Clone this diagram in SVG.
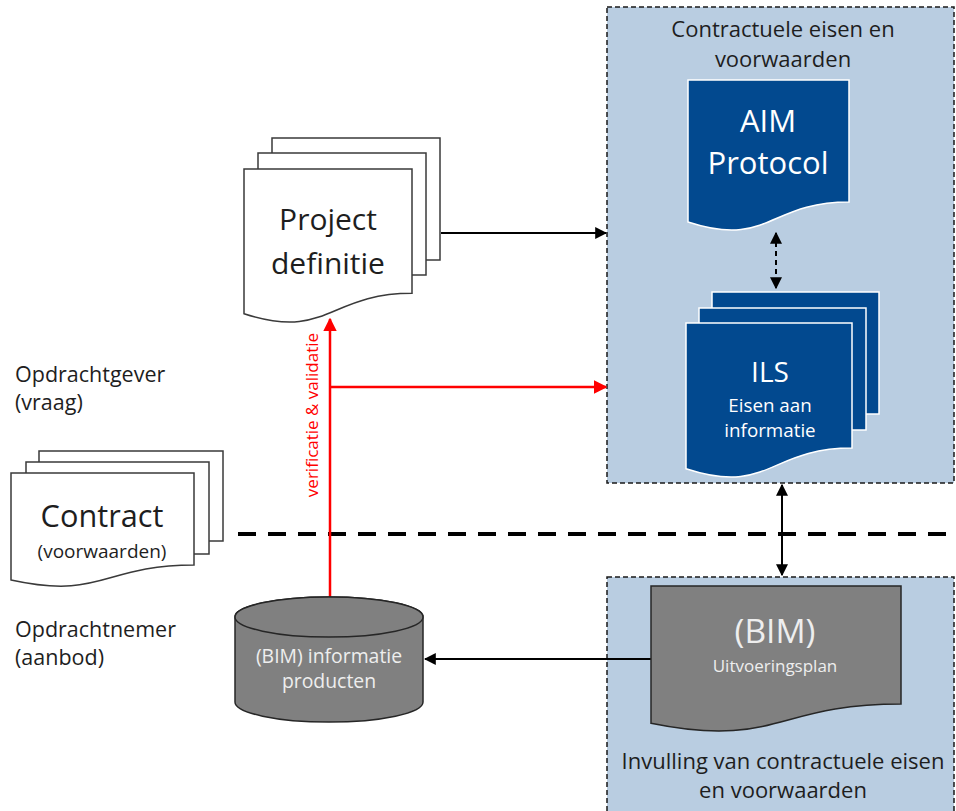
<svg xmlns="http://www.w3.org/2000/svg" width="956" height="811" viewBox="0 0 956 811">
<defs>
<style>
text{font-family:"Open Sans","Liberation Sans",Arial,sans-serif}
.dark{fill:#1e1e1e}
.white{fill:#ffffff}
.light{fill:#eeeeee}
.page{fill:#ffffff;stroke:#3a3a3a;stroke-width:1.5}
.blue{fill:#02498f;stroke:#ffffff;stroke-width:1.5}
.grey{fill:#808080;stroke:#262626;stroke-width:1.5}
.zone{fill:#b9cde1;stroke:#1a1a1a;stroke-width:1.5;stroke-dasharray:5,3}
.conn{fill:none;stroke:#000;stroke-width:2}
.red{fill:none;stroke:#ff0000;stroke-width:2.5}
</style>
<marker id="ah" viewBox="0 0 10 10" refX="9" refY="5" markerWidth="6" markerHeight="6" markerUnits="strokeWidth" orient="auto-start-reverse">
<path d="M0,0 L10,5 L0,10 Z" fill="#000"/>
</marker>
<marker id="ahr" viewBox="0 0 10 10" refX="9" refY="5" markerWidth="5.5" markerHeight="5.5" markerUnits="strokeWidth" orient="auto-start-reverse">
<path d="M0,0 L10,5 L0,10 Z" fill="#ff0000"/>
</marker>
</defs>

<g id="zone-contract">
<rect class="zone" x="607" y="7" width="347" height="476"/>
<text class="dark" x="783" y="37" font-size="22" text-anchor="middle">Contractuele eisen en</text>
<text class="dark" x="783" y="67" font-size="22" text-anchor="middle">voorwaarden</text>
</g>

<g id="zone-invulling">
<rect class="zone" x="607" y="577" width="347" height="250"/>
<text class="dark" x="783" y="769" font-size="22" text-anchor="middle">Invulling van contractuele eisen</text>
<text class="dark" x="783" y="798" font-size="22" text-anchor="middle">en voorwaarden</text>
</g>

<g id="divider">
<line x1="238" y1="534" x2="956" y2="534" stroke="#000" stroke-width="4" stroke-dasharray="18,12"/>
</g>

<g id="labels-left">
<text class="dark" x="15" y="382" font-size="21.5">Opdrachtgever</text>
<text class="dark" x="15" y="410" font-size="21.5">(vraag)</text>
<text class="dark" x="15" y="637" font-size="21.5">Opdrachtnemer</text>
<text class="dark" x="15" y="665" font-size="21.5">(aanbod)</text>
</g>

<g id="connectors">
<line class="conn" x1="441" y1="233" x2="606" y2="233" marker-end="url(#ah)"/>
<line class="conn" x1="776" y1="233" x2="776" y2="288" stroke-dasharray="5,4" marker-start="url(#ah)" marker-end="url(#ah)"/>
<line class="conn" x1="782" y1="485" x2="782" y2="575" marker-start="url(#ah)" marker-end="url(#ah)"/>
<line class="conn" x1="651" y1="659" x2="425" y2="659" marker-end="url(#ah)"/>
<line class="red" x1="330" y1="597" x2="330" y2="319" marker-end="url(#ahr)"/>
<line class="red" x1="330" y1="387" x2="606" y2="387" marker-end="url(#ahr)"/>
<text x="318" y="415" font-size="17" fill="#ff0000" text-anchor="middle" transform="rotate(-90 318 415)">verificatie &amp; validatie</text>
</g>

<g id="project-definitie">
<rect class="page" x="272" y="138" width="168" height="122"/>
<rect class="page" x="258" y="153" width="168" height="122"/>
<path class="page" d="M244,169 H412 V293.3 C328,293.3 328,340.7 244,313.8 Z"/>
<text class="dark" x="328" y="230" font-size="30" text-anchor="middle">Project</text>
<text class="dark" x="328" y="274" font-size="30" text-anchor="middle">definitie</text>
</g>

<g id="aim-protocol">
<path class="blue" d="M688,80 H849 V201.9 C768.5,201.9 768.5,248.3 688,222 Z"/>
<text class="white" x="768" y="132" font-size="31" text-anchor="middle">AIM</text>
<text class="white" x="768" y="174" font-size="31" text-anchor="middle">Protocol</text>
</g>

<g id="ils">
<rect class="blue" x="712" y="292" width="167" height="122"/>
<rect class="blue" x="699" y="308" width="167" height="122"/>
<path class="blue" d="M686,323 H852 V448.1 C769,448.1 769,495.8 686,468.7 Z"/>
<text class="white" x="770" y="382" font-size="28" text-anchor="middle">ILS</text>
<text class="white" x="770" y="412" font-size="18.8" text-anchor="middle">Eisen aan</text>
<text class="white" x="770" y="437" font-size="18.8" text-anchor="middle">informatie</text>
</g>

<g id="contract">
<rect class="page" x="39" y="451" width="184" height="90"/>
<rect class="page" x="26" y="462" width="183" height="92"/>
<path class="page" d="M11,473 H194 V565 C102.5,565 102.5,600 11,580 Z"/>
<text class="dark" x="102" y="527" font-size="30.7" text-anchor="middle">Contract</text>
<text class="dark" x="102" y="558" font-size="19" text-anchor="middle">(voorwaarden)</text>
</g>

<g id="bim-informatie-producten">
<path class="grey" d="M235,617 V702 A94,20 0 0 0 423,702 V617 A94,20 0 0 0 235,617 Z"/>
<ellipse class="grey" cx="329" cy="617" rx="94" ry="20"/>
<text class="light" x="329" y="663" font-size="19.4" text-anchor="middle">(BIM) informatie</text>
<text class="light" x="329" y="688" font-size="19.4" text-anchor="middle">producten</text>
</g>

<g id="bim-uitvoeringsplan">
<path class="grey" d="M651,586 H901 V703.9 C776,703.9 776,748.8 651,723.3 Z"/>
<text class="light" x="775" y="643" font-size="33.5" text-anchor="middle">(BIM)</text>
<text class="light" x="775" y="672" font-size="17" text-anchor="middle">Uitvoeringsplan</text>
</g>
</svg>
